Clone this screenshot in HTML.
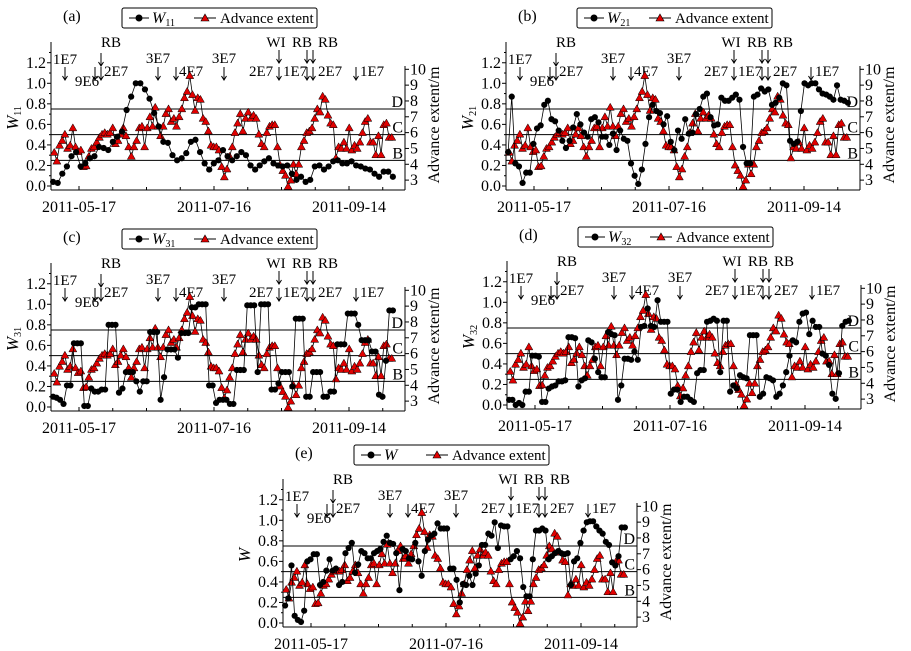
<!DOCTYPE html>
<html><head><meta charset="utf-8"><style>
html,body{margin:0;padding:0;background:#fff;}
svg{display:block;font-family:"Liberation Serif",serif;}
</style></head><body>
<svg id="fig" width="911" height="651" viewBox="0 0 911 651" xmlns="http://www.w3.org/2000/svg"></svg>
<script>
const NS='http://www.w3.org/2000/svg';
// shared advance extent series (m), sampled from day -11 to day 139 relative to 2011-05-17
const advanceExtent=[4.75,4.2,5.2,5.5,5.9,5.0,5.2,6.3,5.1,4.8,4.9,3.85,3.9,4.5,5.0,5.1,5.4,5.7,5.9,6.0,5.9,6.0,6.3,5.3,5.5,5.9,6.3,5.8,5.1,4.5,5.1,5.5,6.3,6.4,5.1,6.3,7.0,6.4,7.6,6.4,5.8,6.4,7.2,7.5,6.7,6.9,6.4,7.0,7.5,8.2,8.6,9.6,8.4,7.4,8.2,8.1,6.9,6.7,6.1,5.2,5.1,5.1,4.9,3.85,3.2,3.7,4.5,5.1,6.0,6.6,7.2,6.1,6.9,7.3,6.9,7.1,6.9,5.9,5.3,5.1,6.0,6.4,6.5,6.5,5.1,3.95,3.6,3.3,2.6,3.0,4.0,3.4,4.0,5.1,5.5,6.0,6.1,6.3,6.9,7.5,7.3,8.3,8.1,7.1,6.6,6.5,4.4,5.1,5.0,5.4,5.0,6.3,4.9,5.2,5.0,5.4,6.0,6.7,6.9,5.4,5.4,4.6,5.8,4.6,6.5,6.6,5.7,5.7];
const W11=[.04,.03,.12,.19,.29,.33,.19,.22,.27,.29,.38,.37,.35,.43,.48,.53,.74,.87,1.0,1.0,.94,.85,.71,.58,.43,.42,.30,.25,.27,.32,.43,.45,.33,.22,.16,.22,.25,.35,.29,.25,.29,.33,.30,.20,.16,.20,.24,.27,.22,.20,.19,.20,.12,.06,.09,.04,.06,.19,.20,.16,.19,.24,.25,.22,.22,.24,.20,.19,.17,.16,.12,.09,.14,.14,.09];
const W21=[.33,.87,.22,.19,.03,.13,.13,.41,.56,.59,.79,.83,.65,.63,.54,.44,.37,.44,.57,.70,.60,.52,.48,.65,.67,.62,.48,.48,.40,.51,.35,.54,.46,.44,.22,.10,.02,.16,.41,.67,.79,.73,.71,.60,.68,.43,.35,.54,.46,.65,.51,.52,.70,.75,.87,.90,.67,.59,.60,.86,.83,.83,.86,.89,.84,.38,.22,.22,.87,.89,.95,.92,.94,.79,.81,.86,1.0,.98,.44,.41,.43,.73,1.0,.98,1.0,1.0,.94,.90,.89,.87,.84,.98,.84,.83,.81];
const W31=[.10,.09,.07,.03,.21,.21,.62,.62,.62,.01,.01,.18,.15,.15,.17,.17,.80,.80,.80,.14,.18,.34,.34,.34,.25,.15,.25,.25,.73,.73,.73,.07,.29,.56,.56,.56,.48,.72,.72,.72,.97,.97,1.0,1.0,1.0,.21,.21,.04,.07,.07,.07,.03,.03,.36,.36,.36,.99,.99,.99,.34,1.0,1.0,1.0,.17,.17,.23,.34,.34,.34,.20,.86,.86,.86,.10,.10,.34,.34,.34,.10,.10,.15,.15,.61,.61,.61,.91,.91,.91,.80,.65,.65,.65,.54,.54,.12,.10,.45,.94,.94];
const W32=[.05,.05,0,.02,0,.13,.13,.48,.48,.47,.03,.03,.16,.18,.19,.23,.23,.24,.66,.66,.65,.18,.24,.26,.63,.61,.45,.32,.27,.27,.71,.69,.68,.05,.19,.45,.45,.44,.52,.44,.76,.77,.94,.77,.76,1.02,.81,.81,.81,.11,.15,.15,.03,.08,.08,.05,.03,.31,.34,.34,.81,.82,.84,.82,.32,.82,.82,.13,.19,.16,.29,.27,.26,.68,.68,.68,.08,.11,.27,.26,.24,.08,.11,.19,.32,.48,.63,.61,.81,.89,.90,.69,.82,.76,.76,.50,.48,.39,.11,.06,.31,.77,.81,.82];
const Wall=[.17,.24,.56,.07,.03,.01,.12,.60,.62,.67,.67,.37,.40,.51,.62,.51,.53,.37,.40,.68,.73,.78,.49,.57,.70,.68,.63,.63,.68,.70,.72,.79,.85,.78,.77,.68,.32,.72,.70,.63,.62,.78,.60,.46,.70,.81,.85,.87,.97,.92,.92,.92,.53,.53,.42,.20,.38,.37,.46,.37,.48,.56,.76,.76,.87,.85,.98,.73,.95,.94,.94,.62,.65,.70,.63,.35,.26,.26,.62,.90,.90,.92,.90,.62,.65,.68,.70,.68,.67,.68,.37,.60,.63,.78,.90,.98,.99,.99,.94,.90,.87,.79,.76,.59,.56,.65,.93,.93];
const leftTicks=['0.0','0.2','0.4','0.6','0.8','1.0','1.2'];
const rightTicks=['3','4','5','6','7','8','9','10'];
const dateLabels=['2011-05-17','2011-07-16','2011-09-14'];
const dateDays=[0,60,120];
const levelValues=[0.25,0.5,0.75];
const levelNames=['B','C','D'];

const panels=[
 {id:'a',tx:0,ty:0,data:W11,sub:'11'},
 {id:'b',tx:455,ty:0,data:W21,sub:'21'},
 {id:'c',tx:0,ty:221,data:W31,sub:'31'},
 {id:'d',tx:456,ty:219,data:W32,sub:'32'},
 {id:'e',tx:232,ty:437,data:Wall,sub:''}
];
const fig=document.getElementById('fig');
function el(tag,attrs,parent){const e=document.createElementNS(NS,tag);for(const k in attrs)e.setAttribute(k,attrs[k]);parent.appendChild(e);return e;}
const xDay=d=>79+d*2.25;
const yW=w=>186-w*102.7;
const yR=m=>69.3+(10-m)*15.83;
const L=51,R=405,B=190,T=42;
function tri(cx,cy){return `${cx},${cy-4} ${cx+4},${cy+3} ${cx-4},${cy+3}`;}

panels.forEach(p=>{
 const g=el('g',{transform:`translate(${p.tx},${p.ty})`},fig);
 
 
 const lab=el('text',{x:63,y:21,'font-size':16},g);lab.textContent='('+p.id+')';
 
 
 const lg=el('g',{},g);
 
 
 el('rect',{x:122,y:8,width:195,height:20,rx:2,fill:'#fff',stroke:'#000','stroke-width':1},lg);
 el('line',{x1:129,y1:18,x2:149,y2:18,stroke:'#000'},lg);
 el('circle',{cx:139,cy:18,r:3.5,fill:'#000'},lg);
 const lt=el('text',{x:152,y:23,'font-size':16},lg);
 lt.innerHTML=`<tspan font-style="italic">W</tspan>`+(p.sub?`<tspan font-size="10" dy="3">${p.sub}</tspan>`:'');
 
 
 el('line',{x1:194,y1:18,x2:216,y2:18,stroke:'#000'},lg);
 el('polygon',{points:tri(205,18),fill:'#e00000',stroke:'#000','stroke-width':0.6},lg);
 const la=el('text',{x:220,y:23,'font-size':15},lg);la.textContent='Advance extent';
 
 
 el('line',{x1:L,y1:T,x2:L,y2:B,stroke:'#000'},g);
 el('line',{x1:L,y1:B,x2:R,y2:B,stroke:'#000'},g);
 el('line',{x1:R,y1:66,x2:R,y2:B,stroke:'#000'},g);
 leftTicks.forEach((t,i)=>{const v=parseFloat(t);const y=yW(v);
  el('line',{x1:L,y1:y,x2:L-4,y2:y,stroke:'#000'},g);
  el('line',{x1:L,y1:yW(v+0.1),x2:L-2,y2:yW(v+0.1),stroke:'#000'},g);
  const tx=el('text',{x:46,y:y+5,'font-size':16,'text-anchor':'end'},g);tx.textContent=t;
  
  });
 rightTicks.forEach(t=>{const y=yR(+t);
  el('line',{x1:R,y1:y,x2:R+4,y2:y,stroke:'#000'},g);
  const tx=el('text',{x:410,y:y+5,'font-size':16},g);tx.textContent=t;
  
  });
 for(let d=-15;d<=135;d+=15){const x=xDay(d);if(x<L)continue;el('line',{x1:x,y1:B,x2:x,y2:B-(d%60===0?4:3),stroke:'#000'},g);}
 dateLabels.forEach((t,i)=>{const tx=el('text',{x:xDay(dateDays[i]),y:212,'font-size':16,'text-anchor':'middle'},g);tx.textContent=t;
  
  });
 const yt=el('text',{x:0,y:0,'font-size':17,'text-anchor':'middle',transform:'translate(18,118) rotate(-90)'},g);
 yt.innerHTML=`<tspan font-style="italic">W</tspan>`+(p.sub?`<tspan font-size="10" dy="3">${p.sub}</tspan>`:'');
 
 
 const rt=el('text',{x:0,y:0,'font-size':16,'text-anchor':'middle',transform:'translate(439,125) rotate(-90)'},g);rt.textContent='Advance extent/m';
 
 
 levelValues.forEach((v,i)=>{const y=yW(v);el('line',{x1:L,y1:y,x2:R,y2:y,stroke:'#000'},g);
  const tx=el('text',{x:403,y:y-2,'font-size':16,'text-anchor':'end'},g);tx.textContent=levelNames[i];
  
  });
 const ann=[['1E7',65,64,'middle'],['9E6',87,86,'middle'],['RB',111,47,'middle'],['2E7',104,76,'start'],['3E7',158,63,'middle'],['4E7',179,76,'start'],['3E7',224,63,'middle'],['WI',276,47,'middle'],['2E7',249,76,'start'],['1E7',283,76,'start'],['RB',302,47,'middle'],['RB',328,47,'middle'],['2E7',318,76,'start'],['1E7',360,76,'start']];
 ann.forEach(a=>{const tx=el('text',{x:a[1],y:a[2],'font-size':15,'text-anchor':a[3]},g);tx.textContent=a[0];
  
  });
 const arrows=[[65,67,80],[101,53,66],[95,67,80],[101,67,80],[158,67,80],[176,67,80],[224,67,80],[279,50,63],[279,67,80],[307,50,63],[313,50,63],[307,67,80],[313,67,80],[356,67,80]];
 arrows.forEach(a=>{el('line',{x1:a[0],y1:a[1],x2:a[0],y2:a[2],stroke:'#000'},g);
  el('polyline',{points:`${a[0]-2.5},${a[2]-4} ${a[0]},${a[2]} ${a[0]+2.5},${a[2]-4}`,fill:'none',stroke:'#000'},g);});
 const n=advanceExtent.length;const ax=i=>xDay(-11+i*150/(n-1));
 el('polyline',{points:advanceExtent.map((v,i)=>ax(i)+','+yR(v)).join(' '),fill:'none',stroke:'#000','stroke-width':0.8},g);
 advanceExtent.forEach((v,i)=>{const t=el('polygon',{points:tri(ax(i),yR(v)),fill:'#e00000',stroke:'#000','stroke-width':0.5},g);
  
  });
 const m=p.data.length;const wx=i=>xDay(-11.5+i*151/(m-1));
 el('polyline',{points:p.data.map((v,i)=>wx(i)+','+yW(v)).join(' '),fill:'none',stroke:'#000','stroke-width':0.8},g);
 p.data.forEach((v,i)=>{const c=el('circle',{cx:wx(i),cy:yW(v),r:3.1,fill:'#000'},g);
  
  });
});
</script>
</body></html>
